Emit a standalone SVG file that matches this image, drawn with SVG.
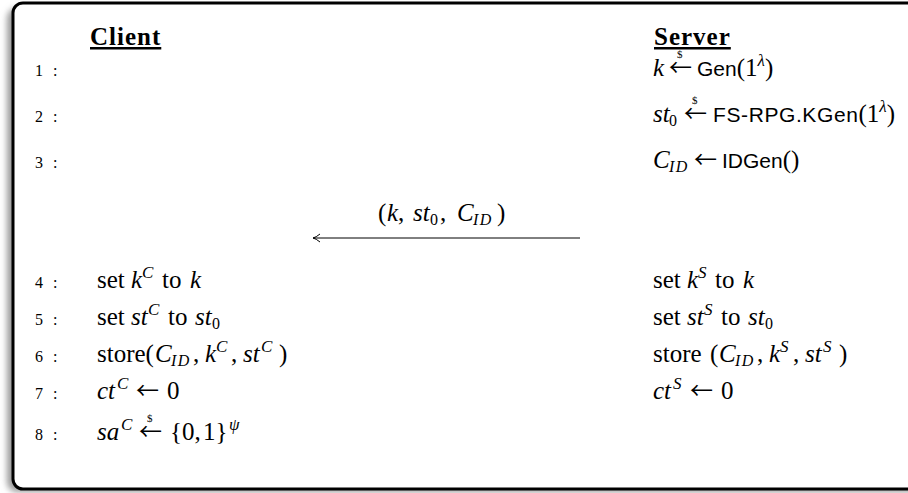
<svg xmlns="http://www.w3.org/2000/svg" width="908" height="493" viewBox="0 0 908 493">
<style>
text{font-family:"Liberation Serif","DejaVu Serif",serif;font-size:25px;fill:#000}
.num{font-size:16px}
.i{font-style:italic}
.sf{font-family:"Liberation Sans","DejaVu Sans",sans-serif;font-size:21px}
.ar{font-family:"Noto Sans CJK JP","DejaVu Sans",sans-serif;font-size:23px;font-style:normal}
.sup{font-size:17px;font-style:italic}
.sub{font-size:16px}
.id{font-size:16px;font-style:italic;letter-spacing:1.5px}
.hd{font-weight:bold;font-size:25px;letter-spacing:1px;text-decoration:underline}
.dol{font-size:11px}
</style>
<defs>
<filter id="sh" x="-5%" y="-5%" width="110%" height="110%"><feGaussianBlur stdDeviation="3"/></filter>
<marker id="ah" markerWidth="10" markerHeight="10" refX="9" refY="5" orient="auto" markerUnits="userSpaceOnUse">
<path d="M2,1 Q6,4.3 9,5 Q6,5.7 2,9" fill="none" stroke="#000" stroke-width="1"/>
</marker>
</defs>
<g id="frame">
<rect x="7" y="8" width="1100" height="484" rx="10" fill="#9a9a9a" filter="url(#sh)"/>
<rect x="13" y="3" width="1100" height="486" rx="10" fill="#fff" stroke="#000" stroke-width="3"/>
</g>
<g id="client">
<text class="hd" x="90" y="45">Client</text>
<text class="num" x="35" y="76">1<tspan x="53">:</tspan></text>
<text class="num" x="35" y="122">2<tspan x="53">:</tspan></text>
<text class="num" x="35" y="168">3<tspan x="53">:</tspan></text>
<text class="num" x="35" y="288">4<tspan x="53">:</tspan></text>
<text x="97" y="288">set<tspan class="i" x="131">k</tspan><tspan class="sup" x="142" dy="-10">C</tspan><tspan x="162" dy="10">to</tspan><tspan class="i" x="190">k</tspan></text>
<text class="num" x="35" y="325">5<tspan x="53">:</tspan></text>
<text x="97" y="325">set<tspan class="i" x="131">st</tspan><tspan class="sup" x="148" dy="-10">C</tspan><tspan x="168" dy="10">to</tspan><tspan class="i" x="195">st</tspan><tspan class="sub" x="212" dy="4">0</tspan></text>
<text class="num" x="35" y="362">6<tspan x="53">:</tspan></text>
<text x="97" y="362">store(<tspan class="i" x="155">C</tspan><tspan class="id" x="171" dy="4">ID</tspan><tspan x="193" dy="-4">,</tspan><tspan class="i" x="205">k</tspan><tspan class="sup" x="216" dy="-10">C</tspan><tspan x="231" dy="10">,</tspan><tspan class="i" x="243">st</tspan><tspan class="sup" x="261" dy="-10">C</tspan><tspan x="279" dy="10">)</tspan></text>
<text class="num" x="35" y="399">7<tspan x="53">:</tspan></text>
<text x="97" y="399"><tspan class="i">ct</tspan><tspan class="sup" x="117" dy="-10">C</tspan><tspan class="ar" x="136" dy="10">←</tspan><tspan x="167">0</tspan></text>
<text class="num" x="35" y="440">8<tspan x="53">:</tspan></text>
<text x="97" y="440"><tspan class="i">sa</tspan><tspan class="sup" x="121" dy="-10">C</tspan><tspan class="ar" x="139" dy="10">←</tspan><tspan x="170">{0,</tspan><tspan x="203">1}</tspan><tspan class="sup" x="229" dy="-10">ψ</tspan></text>
<text class="dol" x="147" y="422">$</text>
</g>
<g id="server">
<text class="hd" x="654" y="45">Server</text>
<text x="653" y="76"><tspan class="i">k</tspan><tspan class="ar" x="669">←</tspan><tspan x="697" class="sf">Gen</tspan><tspan>(1</tspan><tspan class="sup" dy="-10">λ</tspan><tspan dy="10">)</tspan></text>
<text class="dol" x="677" y="58">$</text>
<text x="653" y="122"><tspan class="i">st</tspan><tspan class="sub" x="669" dy="4">0</tspan><tspan class="ar" x="684" dy="-4">←</tspan><tspan x="713" class="sf" letter-spacing="0.6">FS-RPG.KGen</tspan><tspan>(1</tspan><tspan class="sup" dy="-10">λ</tspan><tspan dy="10">)</tspan></text>
<text class="dol" x="692" y="104">$</text>
<text x="653" y="168"><tspan class="i">C</tspan><tspan class="id" x="669" dy="4">ID</tspan><tspan class="ar" x="694" dy="-4">←</tspan><tspan x="722" class="sf">IDGen</tspan><tspan>()</tspan></text>
<text x="653" y="288">set<tspan class="i" x="687">k</tspan><tspan class="sup" x="698" dy="-10">S</tspan><tspan x="715" dy="10">to</tspan><tspan class="i" x="743">k</tspan></text>
<text x="653" y="325">set<tspan class="i" x="687">st</tspan><tspan class="sup" x="704" dy="-10">S</tspan><tspan x="721" dy="10">to</tspan><tspan class="i" x="748">st</tspan><tspan class="sub" x="765" dy="4">0</tspan></text>
<text x="653" y="362">store<tspan x="710">(</tspan><tspan class="i" x="719">C</tspan><tspan class="id" x="735" dy="4">ID</tspan><tspan x="757" dy="-4">,</tspan><tspan class="i" x="769">k</tspan><tspan class="sup" x="780" dy="-10">S</tspan><tspan x="793" dy="10">,</tspan><tspan class="i" x="805">st</tspan><tspan class="sup" x="823" dy="-10">S</tspan><tspan x="839" dy="10">)</tspan></text>
<text x="653" y="399"><tspan class="i">ct</tspan><tspan class="sup" x="673" dy="-10">S</tspan><tspan class="ar" x="690" dy="10">←</tspan><tspan x="721">0</tspan></text>
</g>
<g id="connectors">
<line x1="580" y1="238" x2="313" y2="238" stroke="#000" stroke-width="1" marker-end="url(#ah)"/>
<text x="378" y="221">(<tspan class="i" x="387">k</tspan><tspan x="398">,</tspan><tspan class="i" x="413">st</tspan><tspan class="sub" x="430" dy="4">0</tspan><tspan x="440" dy="-4">,</tspan><tspan class="i" x="457">C</tspan><tspan class="id" x="473" dy="4">ID</tspan><tspan x="497" dy="-4">)</tspan></text>
</g>
</svg>
